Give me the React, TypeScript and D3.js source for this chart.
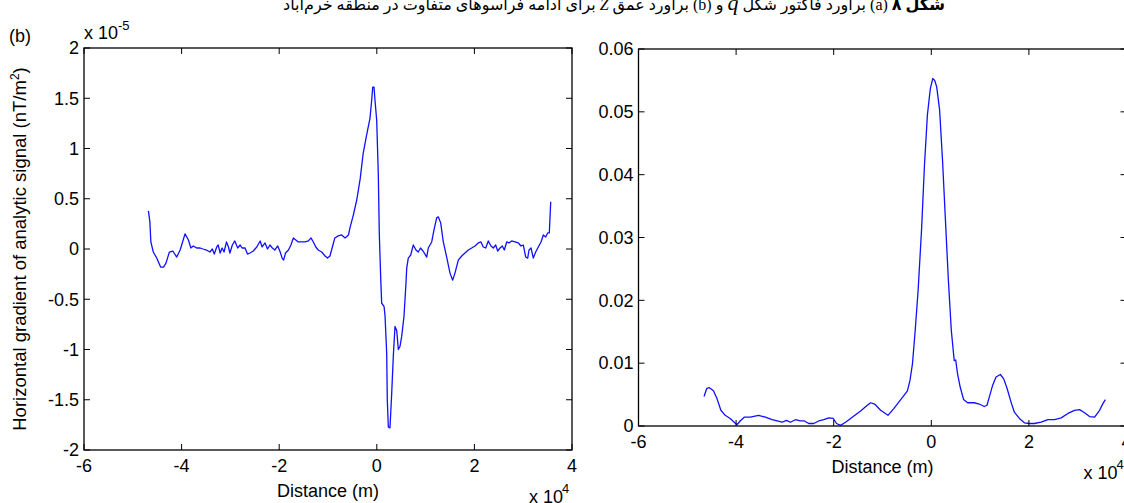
import * as d3 from 'd3'

// left panel: horizontal gradient of analytic signal (x in 1e4 m, y in 1e-5 nT/m^2)
const gradX = [-4.68, -4.65, -4.63, -4.58, -4.51, -4.43, -4.37, -4.32, -4.25, -4.18, -4.10, -4.03, -3.98, -3.93, -3.86, -3.81, -3.76, -3.69, -3.62, -3.56, -3.49, -3.42, -3.37, -3.33, -3.28, -3.25, -3.21, -3.17, -3.13, -3.08, -3.04, -3.01, -2.96, -2.91, -2.85, -2.80, -2.76, -2.70, -2.65, -2.60, -2.53, -2.46, -2.39, -2.35, -2.29, -2.24, -2.19, -2.14, -2.09, -2.03, -1.98, -1.94, -1.91, -1.87, -1.81, -1.76, -1.71, -1.66, -1.61, -1.54, -1.47, -1.40, -1.35, -1.30, -1.25, -1.20, -1.13, -1.06, -1.01, -0.96, -0.91, -0.86, -0.79, -0.72, -0.65, -0.58, -0.55, -0.48, -0.41, -0.34, -0.28, -0.21, -0.14, -0.105, -0.084, -0.057, -0.037, -0.002, 0.031, 0.051, 0.080, 0.100, 0.148, 0.168, 0.203, 0.215, 0.236, 0.270, 0.305, 0.338, 0.373, 0.408, 0.441, 0.475, 0.510, 0.557, 0.598, 0.613, 0.645, 0.695, 0.748, 0.803, 0.850, 0.896, 0.947, 1.023, 1.055, 1.125, 1.172, 1.227, 1.260, 1.309, 1.363, 1.432, 1.500, 1.555, 1.602, 1.670, 1.740, 1.807, 1.875, 1.945, 2.012, 2.080, 2.135, 2.182, 2.232, 2.285, 2.340, 2.387, 2.436, 2.477, 2.525, 2.572, 2.613, 2.662, 2.709, 2.764, 2.832, 2.900, 2.955, 3.002, 3.051, 3.092, 3.119, 3.160, 3.207, 3.256, 3.309, 3.365, 3.412, 3.461, 3.502, 3.535, 3.564]
const gradY = [0.38, 0.27, 0.07, -0.03, -0.09, -0.18, -0.18, -0.14, -0.03, -0.02, -0.08, -0.01, 0.07, 0.15, 0.09, 0.01, 0.03, 0.01, 0.01, 0.00, -0.01, -0.03, 0.00, -0.05, 0.02, 0.04, -0.04, 0.01, -0.03, 0.07, 0.02, -0.04, 0.04, 0.08, 0.01, 0.04, 0.01, 0.01, -0.05, -0.04, -0.02, 0.02, 0.08, 0.02, 0.06, 0.00, 0.04, 0.01, -0.01, 0.03, -0.03, -0.09, -0.11, -0.04, -0.01, 0.04, 0.11, 0.09, 0.07, 0.07, 0.07, 0.08, 0.11, 0.07, 0.02, -0.01, -0.03, -0.07, -0.09, -0.07, 0.02, 0.11, 0.13, 0.14, 0.11, 0.14, 0.21, 0.34, 0.49, 0.70, 0.95, 1.13, 1.30, 1.48, 1.61, 1.61, 1.48, 1.28, 0.74, 0.16, -0.29, -0.54, -0.57, -0.66, -1.04, -1.50, -1.77, -1.78, -1.44, -1.07, -0.77, -0.81, -1.00, -0.97, -0.87, -0.67, -0.34, -0.19, -0.09, -0.06, 0.04, -0.01, -0.03, 0.01, -0.02, -0.08, 0.01, 0.07, 0.19, 0.31, 0.32, 0.26, 0.07, -0.08, -0.24, -0.31, -0.24, -0.11, -0.07, -0.04, -0.01, 0.01, 0.03, 0.06, 0.07, 0.02, 0.01, 0.08, 0.03, 0.01, 0.04, -0.02, 0.01, 0.03, -0.01, 0.07, 0.06, 0.08, 0.07, 0.06, 0.03, 0.04, -0.08, -0.09, -0.01, 0.01, -0.09, -0.03, 0.02, 0.07, 0.14, 0.12, 0.16, 0.16, 0.47]

// right panel: depth estimate
const depthX = [-4.656, -4.60, -4.547, -4.464, -4.394, -4.312, -4.224, -4.121, -4.039, -3.984, -3.916, -3.834, -3.71, -3.54, -3.40, -3.263, -3.16, -3.058, -2.97, -2.888, -2.785, -2.682, -2.60, -2.512, -2.409, -2.306, -2.203, -2.10, -2.01, -1.942, -1.86, -1.757, -1.62, -1.449, -1.311, -1.244, -1.161, -1.038, -0.888, -0.765, -0.627, -0.489, -0.436, -0.386, -0.33, -0.27, -0.20, -0.14, -0.08, -0.02, 0.03, 0.07, 0.11, 0.17, 0.23, 0.29, 0.35, 0.41, 0.47, 0.50, 0.538, 0.592, 0.662, 0.744, 0.88, 0.983, 1.085, 1.141, 1.188, 1.258, 1.326, 1.414, 1.484, 1.552, 1.634, 1.702, 1.805, 1.908, 2.01, 2.113, 2.251, 2.389, 2.524, 2.662, 2.80, 2.935, 3.038, 3.141, 3.243, 3.346, 3.449, 3.519, 3.567]
const depthY = [0.0047, 0.0060, 0.0061, 0.0056, 0.0044, 0.0025, 0.0017, 0.0012, 0.0006, 0.0002, 0.0008, 0.0014, 0.0014, 0.0017, 0.0014, 0.0010, 0.0008, 0.0006, 0.0009, 0.0006, 0.0010, 0.0008, 0.0008, 0.0004, 0.0004, 0.0008, 0.0010, 0.0013, 0.0012, 0.0004, 0.0001, 0.0006, 0.0014, 0.0024, 0.0033, 0.0037, 0.0035, 0.0025, 0.0017, 0.0028, 0.0042, 0.0056, 0.0073, 0.0099, 0.0152, 0.0216, 0.0312, 0.0415, 0.0495, 0.0537, 0.0553, 0.0550, 0.0540, 0.0503, 0.0423, 0.0327, 0.0232, 0.0152, 0.0104, 0.0105, 0.0083, 0.0062, 0.0042, 0.0037, 0.0037, 0.0035, 0.0031, 0.0033, 0.0046, 0.0065, 0.0078, 0.0082, 0.0075, 0.0060, 0.0038, 0.0022, 0.0012, 0.0005, 0.0004, 0.0004, 0.0006, 0.0010, 0.0010, 0.0013, 0.0020, 0.0025, 0.0026, 0.0021, 0.0015, 0.0014, 0.0025, 0.0036, 0.0042]

const xTicks = [-6, -4, -2, 0, 2, 4]
const gradTicks = [-2, -1.5, -1, -0.5, 0, 0.5, 1, 1.5, 2]
const depthTicks = [0, 0.01, 0.02, 0.03, 0.04, 0.05, 0.06]

const FONT = '"Liberation Sans", Arial, sans-serif'
const FS = 18
const TICK = 6

type PanelProps = {
  left: number; top: number; right: number; bottom: number
  xs: number[]; ys: number[]; yDomain: [number, number]; yTicks: number[]
}

function Panel({ left, top, right, bottom, xs, ys, yDomain, yTicks }: PanelProps) {
  const x = d3.scaleLinear().domain([-6, 4]).range([left, right])
  const y = d3.scaleLinear().domain(yDomain).range([bottom, top])
  const pts = xs.map((v, i) => [v, ys[i]] as [number, number])
  const line = d3.line<[number, number]>().x(d => x(d[0])).y(d => y(d[1]))
  return (
    <g fontFamily={FONT} fontSize={FS} fill="#000">
      <path d={line(pts) ?? ''} fill="none" stroke="#1010ff" strokeWidth={1.3} strokeLinejoin="round" />
      <rect x={left} y={top} width={right - left} height={bottom - top} fill="none" stroke="#000" strokeWidth={1.3} />
      {xTicks.map(t => (
        <g key={'x' + t}>
          <line x1={x(t)} x2={x(t)} y1={bottom} y2={bottom - TICK} stroke="#000" />
          <line x1={x(t)} x2={x(t)} y1={top} y2={top + TICK} stroke="#000" />
          <text x={x(t)} y={bottom + 16} dy="0.35em" textAnchor="middle">{String(t)}</text>
        </g>
      ))}
      {yTicks.map(t => (
        <g key={'y' + t}>
          <line x1={left} x2={left + TICK} y1={y(t)} y2={y(t)} stroke="#000" />
          <line x1={right} x2={right - TICK} y1={y(t)} y2={y(t)} stroke="#000" />
          <text x={left - 5} y={y(t)} dy="0.35em" textAnchor="end">{String(t)}</text>
        </g>
      ))}
      <text x={(left + right) / 2} y={bottom + 41} dy="0.35em" textAnchor="middle">Distance (m)</text>
      <text x={right - 43} y={bottom + 47} dy="0.35em">x 10</text>
      <text x={right - 10} y={bottom + 38} dy="0.35em" fontSize={13}>4</text>
    </g>
  )
}

export default function App() {
  return (
    <svg width={1124} height={503} style={{ position: 'absolute', left: 0, top: 0, background: '#fff' }}>
      <text x={614} y={10} textAnchor="middle" fontFamily='"Liberation Serif", "DejaVu Sans", serif' fontSize={16} direction="rtl">
        <tspan fontWeight="bold">شکل ۸</tspan> (a) براورد فاکتور شکل <tspan fontStyle="italic" fontSize={22}>q</tspan> و (b) براورد عمق <tspan fontStyle="italic">Z</tspan> برای ادامه فراسوهای متفاوت در منطقه خرم‌آباد
      </text>
      <text x={9} y={36} dy="0.35em" fontFamily={FONT} fontSize={FS}>(b)</text>
      <text x={84} y={33} dy="0.35em" fontFamily={FONT} fontSize={FS}>x 10</text>
      <text x={118} y={25} dy="0.35em" fontFamily={FONT} fontSize={13}>-5</text>
      <text transform="translate(20,249) rotate(-90)" dy="0.35em" textAnchor="middle" fontFamily={FONT} fontSize={18.5}>
        Horizontal gradient of analytic signal (nT/m<tspan fontSize={12} dy="-7">2</tspan><tspan dy="7">)</tspan>
      </text>
      <Panel left={84} top={48} right={572} bottom={450} xs={gradX} ys={gradY} yDomain={[-2, 2]} yTicks={gradTicks} />
      <Panel left={638.5} top={49} right={1126.5} bottom={426} xs={depthX} ys={depthY} yDomain={[0, 0.06]} yTicks={depthTicks} />
    </svg>
  )
}
